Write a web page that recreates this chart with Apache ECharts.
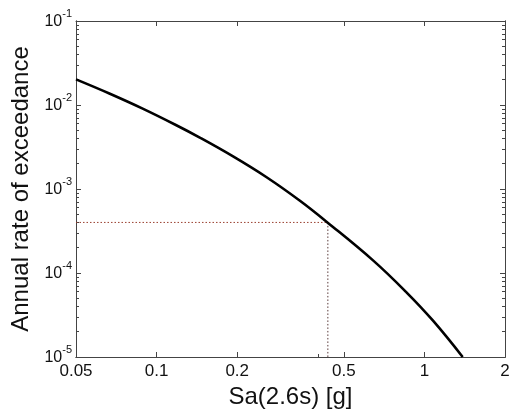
<!DOCTYPE html>
<html>
<head>
<meta charset="utf-8">
<script src="https://cdn.jsdelivr.net/npm/echarts@6/dist/echarts.min.js"></script>
<style>
html,body{margin:0;padding:0;background:#fff;}
#chart{width:511px;height:410px;}
</style>
</head>
<body>
<div id="chart"></div>
<script>
// Hazard curve
const saValues = [0.05, 0.0666, 0.0887, 0.118, 0.145, 0.193, 0.2575, 0.343, 0.431, 0.643, 0.857, 1.077, 1.39];
const rateValues = [0.02018, 0.01371, 0.009057, 0.005781, 0.004093, 0.002443, 0.00138, 7.244e-4, 4.083e-4, 1.413e-4, 5.888e-5, 2.704e-5, 1.0e-5];

// Reference (design) point
const refRate = 4e-4;
const refSa = 0.436;

// Axis ticks
const xTickLabels = [0.05, 0.1, 0.2, 0.5, 1, 2];
const xMajorTicks = [0.1, 0.2, 0.5, 1];
const xMinorTicks = [0.4];
const yTickLabels = [1e-5, 1e-4, 1e-3, 1e-2, 1e-1];
const yMajorTicks = [1e-4, 1e-3, 1e-2];
const yMinorTicks = [];
for (let e = -5; e <= -2; e++) {
  for (let m = 2; m <= 9; m++) yMinorTicks.push(+(m * Math.pow(10, e)).toPrecision(3));
}

const xMin = 0.05, xMax = 2, yMin = 1e-5, yMax = 1e-1;
const FONT = '"Liberation Sans", Arial, Helvetica, sans-serif';
const AXC = '#444';

function xAx(extra) {
  return Object.assign({
    type: 'log', logBase: 10, min: xMin, max: xMax,
    axisLine: { show: true, lineStyle: { color: AXC, width: 1 } },
    axisTick: { show: false },
    axisLabel: { show: false },
    splitLine: { show: false },
    minorTick: { show: false },
    minorSplitLine: { show: false }
  }, extra);
}
function yAx(extra) {
  return Object.assign({
    type: 'log', logBase: 10, min: yMin, max: yMax,
    axisLine: { show: true, lineStyle: { color: AXC, width: 1 } },
    axisTick: { show: false },
    axisLabel: { show: false },
    splitLine: { show: false },
    minorTick: { show: false },
    minorSplitLine: { show: false }
  }, extra);
}

const chart = echarts.init(document.getElementById('chart'), null, { renderer: 'canvas' });
chart.setOption({
  animation: false,
  backgroundColor: '#fff',
  grid: { left: 76, right: 6, top: 21, bottom: 53, containLabel: false, outerBoundsMode: 'none' },
  xAxis: [
    xAx({
      position: 'bottom',
      axisTick: { show: true, inside: true, length: 5, customValues: xMajorTicks, lineStyle: { color: AXC } },
      axisLabel: {
        show: true, customValues: xTickLabels, margin: 6,
        fontSize: 17, fontFamily: FONT, color: '#111',
        formatter: v => String(+(+v).toPrecision(3))
      },
      name: 'Sa(2.6s) [g]', nameLocation: 'middle', nameGap: 22,
      nameTextStyle: { fontSize: 24, fontFamily: FONT, color: '#111', verticalAlign: 'top' }
    }),
    xAx({
      position: 'top',
      axisTick: { show: true, inside: true, length: 5, customValues: xMajorTicks, lineStyle: { color: AXC } }
    }),
    xAx({
      position: 'bottom',
      axisTick: { show: true, inside: true, length: 3, customValues: xMinorTicks, lineStyle: { color: AXC } }
    })
  ],
  yAxis: [
    yAx({
      position: 'left',
      axisTick: { show: true, inside: true, length: 5, customValues: yMajorTicks, lineStyle: { color: AXC } },
      axisLabel: {
        show: true, customValues: yTickLabels, margin: 4,
        formatter: v => '{b|10}{e|' + Math.round(Math.log10(v)) + '}',
        rich: {
          b: { fontSize: 16, fontFamily: FONT, color: '#111', lineHeight: 18, verticalAlign: 'bottom' },
          e: { fontSize: 11, fontFamily: FONT, color: '#111', lineHeight: 12, padding: [0, 0, 11, 0], verticalAlign: 'bottom' }
        }
      },
      name: 'Annual rate of exceedance', nameLocation: 'middle', nameGap: 38,
      nameTextStyle: { fontSize: 24, fontFamily: FONT, color: '#111' }
    }),
    yAx({
      position: 'right',
      axisTick: { show: true, inside: true, length: 5, customValues: yMajorTicks, lineStyle: { color: AXC } }
    }),
    yAx({
      position: 'left',
      axisTick: { show: true, inside: true, length: 3, customValues: yMinorTicks, lineStyle: { color: AXC } }
    }),
    yAx({
      position: 'right',
      axisTick: { show: true, inside: true, length: 3, customValues: yMinorTicks, lineStyle: { color: AXC } }
    })
  ],
  series: [
    {
      type: 'line', xAxisIndex: 0, yAxisIndex: 0,
      data: [[xMin, refRate], [refSa, refRate]],
      symbol: 'none', silent: true,
      lineStyle: { color: '#9a4030', width: 1, type: [1.5, 2] }
    },
    {
      type: 'line', xAxisIndex: 0, yAxisIndex: 0,
      data: [[refSa, refRate], [refSa, yMin]],
      symbol: 'none', silent: true,
      lineStyle: { color: '#5a3a3a', width: 1, type: [1.5, 2] }
    },
    {
      type: 'line', xAxisIndex: 0, yAxisIndex: 0,
      data: saValues.map((s, i) => [s, rateValues[i]]),
      symbol: 'none', smooth: 0.4, silent: true,
      lineStyle: { color: '#000', width: 2.6 }
    }
  ]
});
</script>
</body>
</html>
